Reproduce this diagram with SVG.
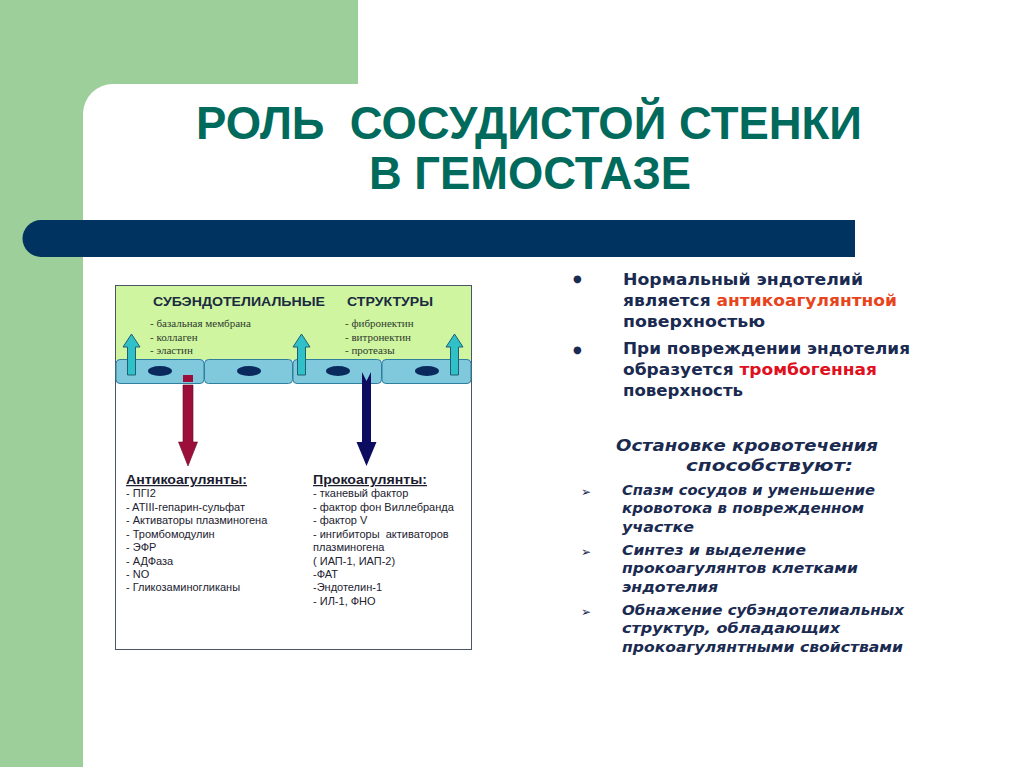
<svg xmlns="http://www.w3.org/2000/svg" width="1024" height="767" viewBox="0 0 1024 767">
<style>
.title{font-family:"Liberation Sans Narrow","Liberation Sans",Arial,sans-serif;font-weight:bold;font-size:46px;fill:#006a5c}
.hdr{font-family:"Liberation Sans",Arial,sans-serif;font-weight:bold;font-size:12.5px;fill:#1a2a40}
.ser{font-family:"Liberation Serif","Times New Roman",serif;font-size:11px;fill:#2d3a2d}
.lh{font-family:"Liberation Sans",Arial,sans-serif;font-weight:bold;font-size:12.5px;fill:#1c1c30;text-decoration:underline}
.li{font-family:"Liberation Sans",Arial,sans-serif;font-size:11px;fill:#222230}
.rb{font-family:"DejaVu Sans",Verdana,sans-serif;font-weight:bold;font-size:16.5px;fill:#1a2a50}
.ri{font-family:"DejaVu Sans",Verdana,sans-serif;font-weight:bold;font-style:italic;font-size:16px;fill:#1a2a50}
.rs{font-family:"DejaVu Sans",Verdana,sans-serif;font-weight:bold;font-style:italic;font-size:14.5px;fill:#1a2a50}
.dot{font-family:"DejaVu Sans",sans-serif;font-size:10px;fill:#1a2a50}
.chev{font-family:"DejaVu Sans",sans-serif;font-size:12px;fill:#1a2a50}
.cell{fill:#80c8dc;stroke:#2f7f9f;stroke-width:1}
.nuc{fill:#0a2a5e}
.up{fill:#30c0c8;stroke:#1f6070;stroke-width:1}
</style>
<rect x="0" y="0" width="1024" height="767" fill="#ffffff"/>
<rect x="0" y="0" width="358" height="140" fill="#9dcf9a"/>
<rect x="0" y="0" width="83" height="767" fill="#9dcf9a"/>
<rect x="83" y="84" width="1000" height="760" rx="30" ry="30" fill="#ffffff"/>
<path d="M41,220 H855 V257 H41 A18.5,18.5 0 0 1 41,220 Z" fill="#00335f"/>
<g id="title">
<text class="title" x="196" y="139" textLength="666" lengthAdjust="spacingAndGlyphs" xml:space="preserve">РОЛЬ  СОСУДИСТОЙ СТЕНКИ</text>
<text class="title" x="369" y="189" textLength="322" lengthAdjust="spacingAndGlyphs">В ГЕМОСТАЗЕ</text>
</g>
<g id="vessel-box">
<rect x="115.5" y="285.5" width="356" height="364" fill="#ffffff" stroke="#4a5666" stroke-width="1"/>
<rect x="116" y="286" width="355" height="74" fill="#d0f5a0"/>
</g>
<g id="subendothelial">
<text class="hdr" x="153" y="306" textLength="172" lengthAdjust="spacingAndGlyphs">СУБЭНДОТЕЛИАЛЬНЫЕ</text>
<text class="hdr" x="347" y="306" textLength="86" lengthAdjust="spacingAndGlyphs">СТРУКТУРЫ</text>
<text class="ser" x="150" y="327">- базальная мембрана</text>
<text class="ser" x="150" y="341">- коллаген</text>
<text class="ser" x="150" y="354">- эластин</text>
<text class="ser" x="345" y="327">- фибронектин</text>
<text class="ser" x="345" y="341">- витронектин</text>
<text class="ser" x="345" y="354">- протеазы</text>
</g>
<g id="endothelium">
<rect class="cell" x="116" y="359.5" width="88" height="24" rx="4"/>
<rect class="cell" x="204.5" y="359.5" width="88" height="24" rx="4"/>
<rect class="cell" x="293" y="359.5" width="88.5" height="24" rx="4"/>
<rect class="cell" x="382" y="359.5" width="89" height="24" rx="4"/>
<ellipse class="nuc" cx="160" cy="371" rx="12" ry="5"/>
<ellipse class="nuc" cx="249" cy="371" rx="12" ry="5"/>
<ellipse class="nuc" cx="338" cy="371" rx="12" ry="5"/>
<ellipse class="nuc" cx="427" cy="371" rx="12" ry="5"/>
</g>
<g id="connectors">
<path class="up" d="M127.5,375 V347 H123 L131.5,334 L140,347 H135.5 V375 Z"/>
<path class="up" d="M297.5,375 V347 H293 L301.5,334 L310,347 H305.5 V375 Z"/>
<path class="up" d="M450.5,375 V347 H446 L454.5,334 L463,347 H458.5 V375 Z"/>
<rect x="183" y="375" width="10" height="7" fill="#9b0f3a"/>
<path d="M183,385 H193 V442 H197.5 L188,466 L178.5,442 H183 Z" fill="#9b0f3a" stroke="#6a0a28" stroke-width="0.6"/>
<path d="M362,372 L366.5,381 L371,372 V442 H376.5 L366.5,466 L356.5,442 H362 Z" fill="#0c0c60"/>
</g>
<g id="anticoagulants">
<text class="lh" x="126" y="484" textLength="121" lengthAdjust="spacingAndGlyphs">Антикоагулянты:</text>
<text class="li" x="126" y="497">- ПГI2</text>
<text class="li" x="126" y="511">- ATIII-гепарин-сульфат</text>
<text class="li" x="126" y="524">- Активаторы плазминогена</text>
<text class="li" x="126" y="538">- Тромбомодулин</text>
<text class="li" x="126" y="551">- ЭФР</text>
<text class="li" x="126" y="565">- АДФаза</text>
<text class="li" x="126" y="578">- NO</text>
<text class="li" x="126" y="591">- Гликозаминогликаны</text>
</g>
<g id="procoagulants">
<text class="lh" x="313" y="484" textLength="114" lengthAdjust="spacingAndGlyphs">Прокоагулянты:</text>
<text class="li" x="313" y="497">- тканевый фактор</text>
<text class="li" x="313" y="511">- фактор фон Виллебранда</text>
<text class="li" x="313" y="524">- фактор V</text>
<text class="li" x="313" y="538" xml:space="preserve">- ингибиторы  активаторов</text>
<text class="li" x="313" y="551">плазминогена</text>
<text class="li" x="313" y="565">( ИАП-1, ИАП-2)</text>
<text class="li" x="313" y="578">-ФАТ</text>
<text class="li" x="313" y="591">-Эндотелин-1</text>
<text class="li" x="313" y="605">- ИЛ-1, ФНО</text>
</g>
<g id="endothelium-facts">
<text class="dot" x="573" y="282">●</text>
<text class="rb" x="623" y="285" textLength="240" lengthAdjust="spacingAndGlyphs">Нормальный эндотелий</text>
<text class="rb" x="623" y="306" textLength="274" lengthAdjust="spacingAndGlyphs">является <tspan fill="#e8441c">антикоагулянтной</tspan></text>
<text class="rb" x="623" y="327" textLength="142" lengthAdjust="spacingAndGlyphs">поверхностью</text>
<text class="dot" x="573" y="353">●</text>
<text class="rb" x="623" y="354" textLength="287" lengthAdjust="spacingAndGlyphs">При повреждении эндотелия</text>
<text class="rb" x="623" y="375" textLength="254" lengthAdjust="spacingAndGlyphs">образуется <tspan fill="#e01020">тромбогенная</tspan></text>
<text class="rb" x="623" y="396" textLength="120" lengthAdjust="spacingAndGlyphs">поверхность</text>
</g>
<g id="hemostasis-factors">
<text class="ri" x="616" y="451" textLength="262" lengthAdjust="spacingAndGlyphs">Остановке кровотечения</text>
<text class="ri" x="686" y="471" textLength="167" lengthAdjust="spacingAndGlyphs">способствуют:</text>
<text class="chev" x="581" y="496">➢</text>
<text class="rs" x="622" y="495" textLength="253" lengthAdjust="spacingAndGlyphs">Спазм сосудов и уменьшение</text>
<text class="rs" x="622" y="513" textLength="242" lengthAdjust="spacingAndGlyphs">кровотока в поврежденном</text>
<text class="rs" x="622" y="532" textLength="72" lengthAdjust="spacingAndGlyphs">участке</text>
<text class="chev" x="581" y="556">➢</text>
<text class="rs" x="622" y="555" textLength="184" lengthAdjust="spacingAndGlyphs">Синтез и выделение</text>
<text class="rs" x="622" y="573" textLength="236" lengthAdjust="spacingAndGlyphs">прокоагулянтов клетками</text>
<text class="rs" x="622" y="592" textLength="96" lengthAdjust="spacingAndGlyphs">эндотелия</text>
<text class="chev" x="581" y="616">➢</text>
<text class="rs" x="622" y="615" textLength="282" lengthAdjust="spacingAndGlyphs">Обнажение субэндотелиальных</text>
<text class="rs" x="622" y="633" textLength="218" lengthAdjust="spacingAndGlyphs">структур, обладающих</text>
<text class="rs" x="622" y="652" textLength="281" lengthAdjust="spacingAndGlyphs">прокоагулянтными свойствами</text>
</g>
</svg>
